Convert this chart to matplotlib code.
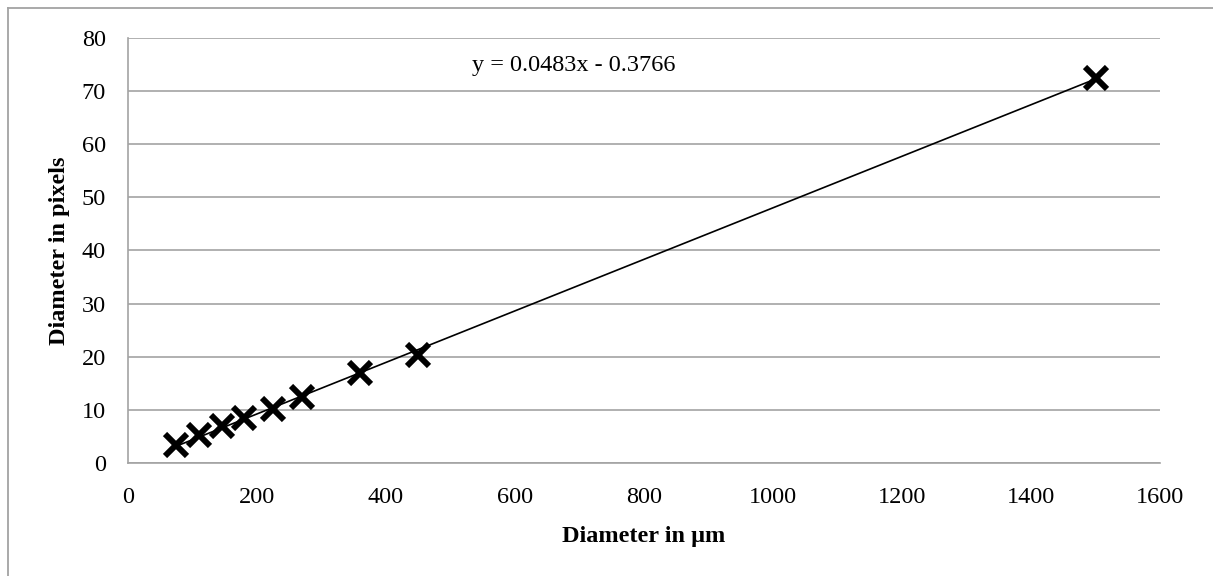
import numpy as np
import matplotlib

matplotlib.use("Agg")
import matplotlib.pyplot as plt
from matplotlib.lines import Line2D

# calibration points: real diameter (um) vs measured diameter (pixels)
diam_um = [75, 110, 145, 180, 225, 270, 360, 450, 1500]
diam_px = [3.4, 5.3, 6.9, 8.4, 10.2, 12.4, 17.0, 20.4, 72.5]
x_ticks = [0, 200, 400, 600, 800, 1000, 1200, 1400, 1600]
y_ticks = [0, 10, 20, 30, 40, 50, 60, 70, 80]
equation = "y = 0.0483x - 0.3766"

plt.rcParams["font.family"] = ["Liberation Serif", "DejaVu Serif"]
plt.rcParams["font.size"] = 17.5

fig = plt.figure(figsize=(12.13, 5.76), dpi=100)
ax = fig.add_axes([128 / 1213, 1 - 463 / 576, (1160 - 128) / 1213, (463 - 37.7) / 576])

# linear trendline over the data range
slope, icpt = np.polyfit(diam_um, diam_px, 1)
xs = np.array([min(diam_um), max(diam_um)])
ax.plot(xs, slope * xs + icpt, color="black", linewidth=1.2, zorder=2)

ax.plot(diam_um, diam_px, linestyle="none", marker="x", markersize=15.5,
        markeredgewidth=4.3, color="black", zorder=3)

ax.text(533, 74.8, equation, ha="left", va="center", fontsize=17.5)

ax.set_xlim(0, 1600)
ax.set_ylim(0, 80)
ax.set_xticks(x_ticks)
ax.set_yticks(y_ticks)
ax.tick_params(axis="x", length=0, pad=17)
ax.tick_params(axis="y", length=0, pad=16)
ax.grid(axis="y", color="#a3a3a3", linewidth=1.2)
ax.set_axisbelow(True)
for side in ("top", "right"):
    ax.spines[side].set_visible(False)
for side in ("left", "bottom"):
    ax.spines[side].set_color("#a3a3a3")
    ax.spines[side].set_linewidth(1.2)

ax.set_xlabel("Diameter in μm", fontweight="bold", labelpad=13)
ax.set_ylabel("Diameter in pixels", fontweight="bold", labelpad=8.5)

# chart frame (only left and top edges visible in the crop)
fig.add_artist(Line2D([7.5 / 1213, 7.5 / 1213], [0, 1 - 8 / 576], color="#a3a3a3", linewidth=1.3))
fig.add_artist(Line2D([7.5 / 1213, 1], [1 - 8 / 576, 1 - 8 / 576], color="#a3a3a3", linewidth=1.3))

fig.savefig("out.png", dpi=100)
